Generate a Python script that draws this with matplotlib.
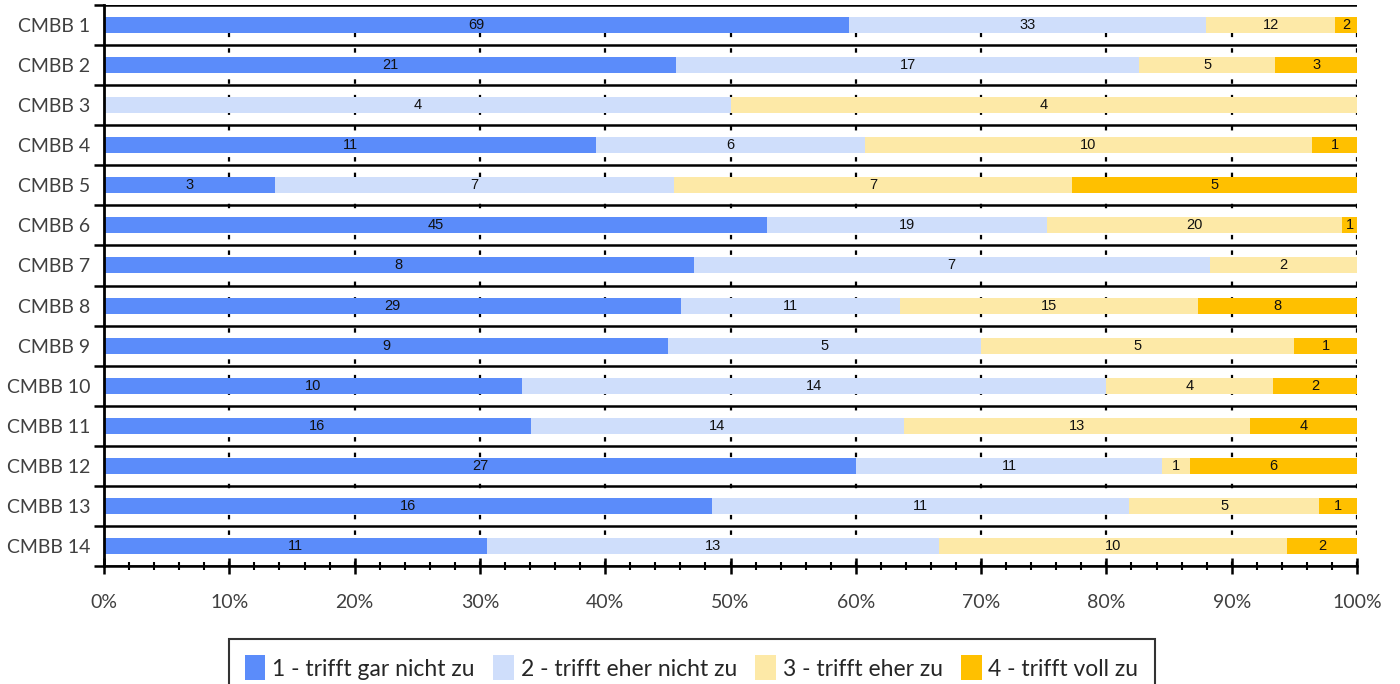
import matplotlib
matplotlib.use("Agg")
import matplotlib.pyplot as plt
import numpy as np
from matplotlib.ticker import MultipleLocator, PercentFormatter
from matplotlib.patches import Patch

categories = ["CMBB 1", "CMBB 2", "CMBB 3", "CMBB 4", "CMBB 5", "CMBB 6", "CMBB 7",
              "CMBB 8", "CMBB 9", "CMBB 10", "CMBB 11", "CMBB 12", "CMBB 13", "CMBB 14"]
s1 = [69, 21, 0, 11, 3, 45, 8, 29, 9, 10, 16, 27, 16, 11]
s2 = [33, 17, 4, 6, 7, 19, 7, 11, 5, 14, 14, 11, 11, 13]
s3 = [12, 5, 4, 10, 7, 20, 2, 15, 5, 4, 13, 1, 5, 10]
s4 = [2, 3, 0, 1, 5, 1, 0, 8, 1, 2, 4, 6, 1, 2]
series_names = ["1 - trifft gar nicht zu", "2 - trifft eher nicht zu",
                "3 - trifft eher zu", "4 - trifft voll zu"]
colors = ["#5B8CFA", "#CFDEFB", "#FDE9A7", "#FFC000"]

data = np.array([s1, s2, s3, s4], dtype=float)
totals = data.sum(axis=0)
pct = data / totals * 100

fig = plt.figure(figsize=(14, 6.84), dpi=100)
ax = fig.add_axes([0.0743, 0.1725, 0.8950, 0.8202])

y = np.arange(len(categories))
left = np.zeros(len(categories))
for i in range(4):
    ax.barh(y, pct[i], left=left, height=0.4, color=colors[i], zorder=3)
    for j in range(len(categories)):
        if data[i, j] > 0:
            ax.text(left[j] + pct[i, j] / 2, y[j], f"{int(data[i, j])}",
                    ha="center", va="center", fontsize=10.5, color="#111111",
                    family="Liberation Sans", zorder=4)
    left += pct[i]

ax.set_xlim(0, 100)
ax.set_ylim(len(categories) - 0.5, -0.5)

# vertical dotted gridlines
for x in range(10, 101, 10):
    ax.axvline(x, color="black", lw=1.6, linestyle=(0, (2, 5)), zorder=1)
# horizontal separators
for k in range(len(categories) + 1):
    ax.axhline(k - 0.5, color="black", lw=1.8, zorder=2)

ax.set_yticks(y)
ax.set_yticklabels(categories, fontsize=14, color="#404040", family="Lato")
ax.set_yticks(np.arange(len(categories) + 1) - 0.5, minor=True)
ax.tick_params(axis="y", which="major", length=0, pad=10)
ax.tick_params(axis="y", which="minor", length=7, width=1.8, direction="out")

ax.xaxis.set_major_locator(MultipleLocator(10))
ax.xaxis.set_minor_locator(MultipleLocator(2))
ax.xaxis.set_major_formatter(PercentFormatter(decimals=0))
ax.tick_params(axis="x", which="major", length=12, width=1.8, direction="inout",
               labelsize=14, labelcolor="#404040", pad=14)
ax.tick_params(axis="x", which="minor", length=6, width=1.5, direction="inout")
for lab in ax.get_xticklabels():
    lab.set_family("Lato")

for side in ["top", "right"]:
    ax.spines[side].set_visible(False)
ax.spines["left"].set_linewidth(2)
ax.spines["bottom"].set_linewidth(1.8)
ax.spines["left"].set_zorder(5)

handles = [Patch(facecolor=c, edgecolor="none") for c in colors]
leg = fig.legend(handles, series_names, loc="lower center", bbox_to_anchor=(0.494, -0.035),
                 ncol=4, frameon=True, fancybox=False, edgecolor="black",
                 handlelength=0.9, handleheight=1.3, handletextpad=0.3, columnspacing=0.8,
                 borderpad=0.7, prop={"family": "Lato", "size": 16.5})
leg.get_frame().set_linewidth(1.5)
for t in leg.get_texts():
    t.set_color("#262626")

fig.savefig("out.png", dpi=100)
